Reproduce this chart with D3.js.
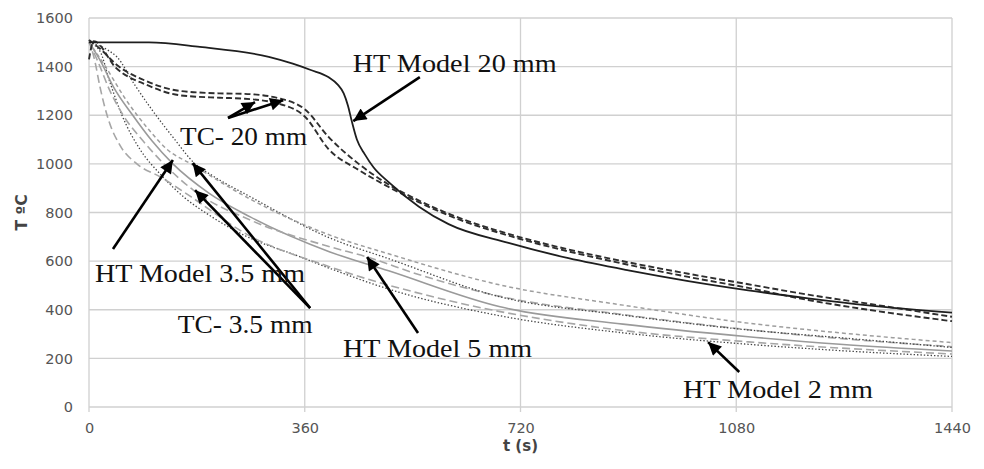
<!DOCTYPE html>
<html>
<head>
<meta charset="utf-8">
<script src="https://cdn.jsdelivr.net/npm/d3@7/dist/d3.min.js"></script>
<style>
  html, body { margin: 0; padding: 0; background: #fff; }
  svg { display: block; }
</style>
</head>
<body>
<svg id="chart" width="984" height="469"></svg>
<script>
// ---------------- DATA ----------------
const xTicks = [0, 360, 720, 1080, 1440];
const yTicks = [0, 200, 400, 600, 800, 1000, 1200, 1400, 1600];

// [t (s), T (ºC)]
const htModel20 = [[0,1500],[100,1500],[185,1481],[300,1440],[340,1412],[370,1386],[400,1356],[415,1326],[425,1290],[432,1240],[438,1180],[447,1100],[460,1040],[475,985],[500,925],[550,825],[600,752],[700,675],[800,612],[900,562],[1000,518],[1100,480],[1200,447],[1300,418],[1440,388]];
const tc20a = [[0,1510],[20,1470],[45,1410],[96,1340],[152,1300],[218,1290],[260,1288],[320,1268],[360,1225],[400,1110],[450,1000],[500,915],[550,850],[600,795],[700,712],[800,648],[900,595],[1000,548],[1100,505],[1200,462],[1300,425],[1440,371]];
const tc20b = [[0,1430],[8,1505],[45,1395],[96,1325],[152,1282],[218,1272],[260,1268],[320,1245],[360,1195],[400,1060],[450,975],[500,905],[550,843],[600,788],[700,705],[800,640],[900,585],[1000,535],[1100,490],[1200,440],[1300,400],[1440,353]];
const htModel2 = [[0,1500],[18,1465],[35,1335],[55,1200],[85,1060],[120,955],[160,860],[200,790],[260,705],[352,618],[402,570],[500,485],[686,375],[891,305],[1100,258],[1253,232],[1440,208]];
const tc2 = [[0,1510],[10,1420],[18,1320],[32,1185],[52,1075],[80,1000],[120,945],[170,865],[260,715],[400,578],[600,438],[900,312],[1100,268],[1440,218]];
const htModel35 = [[0,1500],[20,1420],[40,1320],[73,1200],[105,1095],[140,1000],[200,880],[269,782],[402,638],[500,560],[686,412],[891,341],[1100,289],[1253,258],[1440,230]];
const htModel5 = [[0,1500],[15,1420],[35,1300],[57,1200],[90,1095],[125,1000],[174,892],[269,769],[402,659],[464,617],[550,545],[686,455],[891,380],[1100,318],[1253,282],[1440,248]];
const tc35 = [[0,1500],[30,1470],[47,1439],[75,1330],[102,1233],[140,1110],[177,1000],[207,950],[269,865],[402,695],[500,610],[686,453],[891,378],[1100,317],[1253,285],[1440,245]];
const tc5 = [[0,1500],[25,1410],[60,1270],[100,1140],[130,1060],[170,1000],[269,855],[402,707],[500,630],[686,502],[891,419],[1100,345],[1253,305],[1440,265]];

const seriesList = [
  {name: "HT Model 2 mm", data: htModel2, cls: "dotDark"},
  {name: "TC- 2 mm", data: tc2, cls: "longGray"},
  {name: "HT Model 3.5 mm", data: htModel35, cls: "solidGray"},
  {name: "HT Model 5 mm", data: htModel5, cls: "longGray"},
  {name: "TC- 3.5 mm", data: tc35, cls: "dotDark"},
  {name: "TC- 5 mm", data: tc5, cls: "shortGray"},
  {name: "TC- 20 mm a", data: tc20a, cls: "dashDark"},
  {name: "TC- 20 mm b", data: tc20b, cls: "dashDark"},
  {name: "HT Model 20 mm", data: htModel20, cls: "solidDark"}
];

const styles = {
  solidDark: {stroke: "#1e1e1e", width: 1.8, dash: null},
  dashDark:  {stroke: "#2e2e2e", width: 1.9, dash: "6,3"},
  solidGray: {stroke: "#9a9a9a", width: 1.6, dash: null},
  longGray:  {stroke: "#a6a6a6", width: 1.6, dash: "8,4"},
  shortGray: {stroke: "#9e9e9e", width: 1.5, dash: "4,3"},
  dotDark:   {stroke: "#444", width: 1.3, dash: "1.4,2"}
};

// annotation labels: text with left/baseline anchor in data units
const labels = [
  {text: "HT Model 20 mm", t: 440, v: 1378, w: 204},
  {text: "TC- 20 mm", t: 152, v: 1078, w: 127},
  {text: "HT Model 3.5 mm", t: 10, v: 514, w: 210},
  {text: "TC- 3.5 mm", t: 148, v: 304, w: 135},
  {text: "HT Model 5 mm", t: 424, v: 206, w: 189},
  {text: "HT Model 2 mm", t: 991, v: 37, w: 190}
];
// arrows: [t0, v0] -> [t1, v1] (tip)
const arrows = [
  [[552, 1357], [441, 1176]],
  [[232, 1189], [277, 1254]],
  [[232, 1189], [324, 1262]],
  [[40, 650], [140, 1016]],
  [[369, 407], [173, 1003]],
  [[369, 407], [177, 892]],
  [[549, 304], [464, 617]],
  [[1085, 144], [1033, 267]]
];

// ---------------- CHART ----------------
const svg = d3.select("#chart");
const x = d3.scaleLinear().domain([0, 1440]).range([89, 952]);
const y = d3.scaleLinear().domain([0, 1600]).range([407, 18]);

// gridlines
svg.append("g").selectAll("line.h").data(yTicks).join("line")
  .attr("x1", x(0)).attr("x2", x(1440))
  .attr("y1", d => y(d)).attr("y2", d => y(d))
  .attr("stroke", "#d0d0d0").attr("stroke-width", 1.3);
svg.append("g").selectAll("line.v").data(xTicks).join("line")
  .attr("x1", d => x(d)).attr("x2", d => x(d))
  .attr("y1", y(1600)).attr("y2", y(0) + 5)
  .attr("stroke", "#d0d0d0").attr("stroke-width", 1.3);

// axes
const fmt = d3.format("d");
const xAxis = svg.append("g").attr("transform", `translate(0,${y(0)})`)
  .call(d3.axisBottom(x).tickValues(xTicks).tickFormat(fmt).tickSize(0).tickPadding(16));
const yAxis = svg.append("g").attr("transform", `translate(${x(0)},0)`)
  .call(d3.axisLeft(y).tickValues(yTicks).tickFormat(fmt).tickSize(0).tickPadding(16));
[xAxis, yAxis].forEach(g => {
  g.select(".domain").remove();
  g.selectAll("text").attr("font-family", "'DejaVu Sans', sans-serif")
    .attr("font-size", 14.5).attr("fill", "#555");
});

// axis titles
svg.append("text").attr("x", (x(0) + x(1440)) / 2).attr("y", 451)
  .attr("text-anchor", "middle").attr("font-family", "'DejaVu Sans', sans-serif")
  .attr("font-weight", "bold").attr("font-size", 15).attr("fill", "#444").text("t (s)");
svg.append("text").attr("transform", `translate(27,${y(800)}) rotate(-90)`)
  .attr("text-anchor", "middle").attr("font-family", "'DejaVu Sans', sans-serif")
  .attr("font-weight", "bold").attr("font-size", 15.5).attr("fill", "#444").text("T ºC");

// lines
const line = d3.line().x(d => x(d[0])).y(d => y(d[1])).curve(d3.curveMonotoneX);
svg.append("g").selectAll("path").data(seriesList).join("path")
  .attr("d", d => line(d.data))
  .attr("fill", "none")
  .attr("stroke", d => styles[d.cls].stroke)
  .attr("stroke-width", d => styles[d.cls].width)
  .attr("stroke-dasharray", d => styles[d.cls].dash);

// arrow marker
svg.append("defs").append("marker")
  .attr("id", "ah").attr("viewBox", "0 0 10 10").attr("refX", 10).attr("refY", 5)
  .attr("markerWidth", 6).attr("markerHeight", 5).attr("markerUnits", "strokeWidth")
  .attr("orient", "auto")
  .append("path").attr("d", "M0,0 L10,5 L0,10 Z").attr("fill", "#000");

svg.append("g").selectAll("line").data(arrows).join("line")
  .attr("x1", d => x(d[0][0])).attr("y1", d => y(d[0][1]))
  .attr("x2", d => x(d[1][0])).attr("y2", d => y(d[1][1]))
  .attr("stroke", "#000").attr("stroke-width", 2.6)
  .attr("marker-end", "url(#ah)");

// labels
svg.append("g").selectAll("text").data(labels).join("text")
  .attr("x", d => x(d.t)).attr("y", d => y(d.v))
  .attr("font-family", "'Liberation Serif', 'Times New Roman', serif")
  .attr("font-size", 26).attr("fill", "#111")
  .attr("textLength", d => d.w).attr("lengthAdjust", "spacingAndGlyphs")
  .text(d => d.text);
</script>
</body>
</html>
